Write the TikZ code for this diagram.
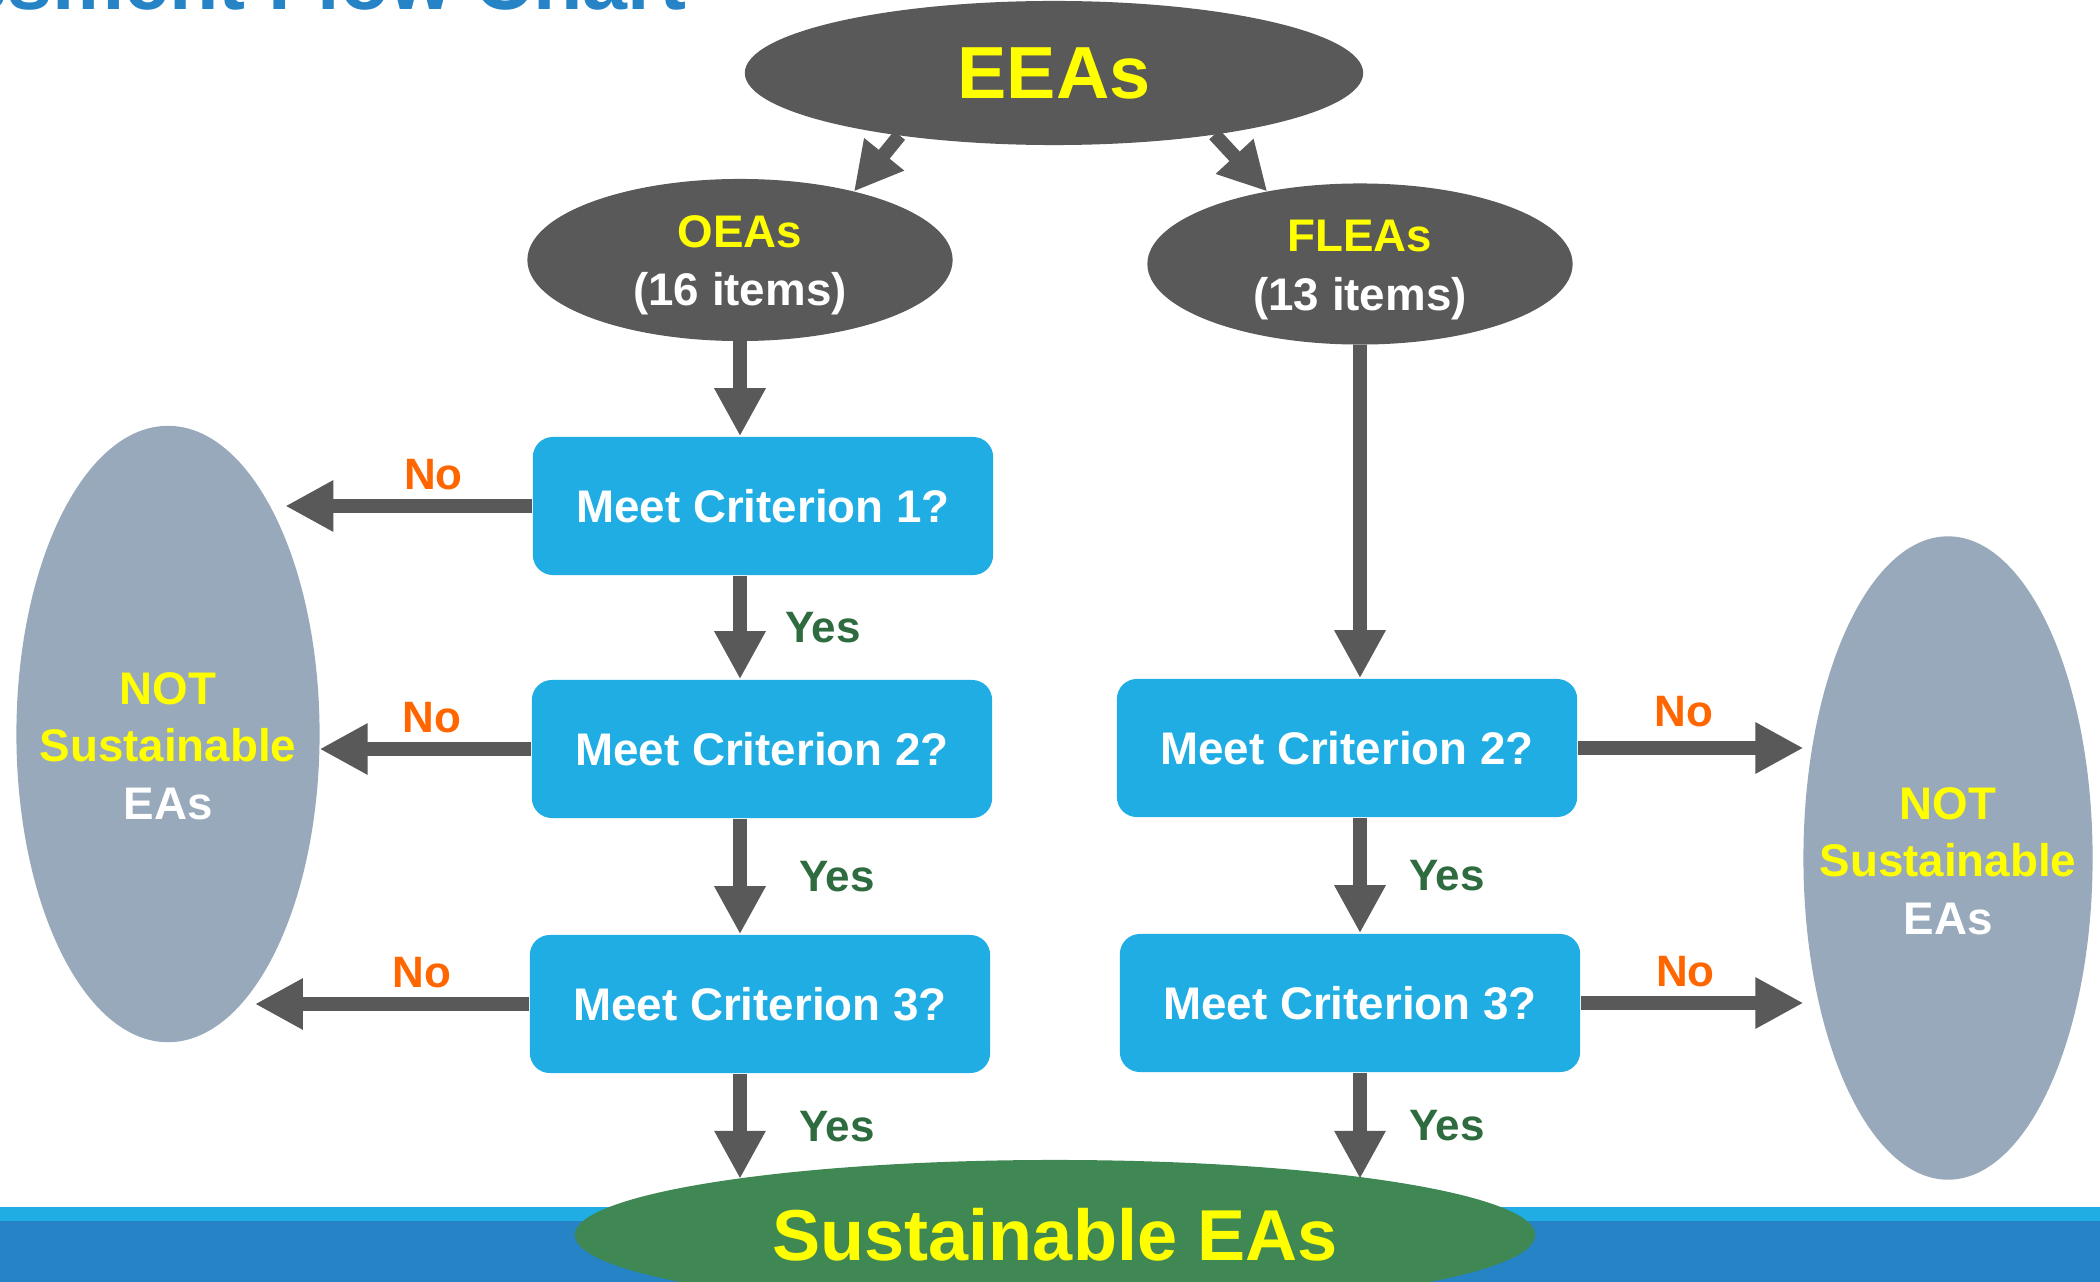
\documentclass[tikz,border=0pt]{standalone}
\usepackage{fontspec}
\setmainfont{Liberation Sans}
\usetikzlibrary{arrows.meta}
\usetikzlibrary{shapes.geometric}

\definecolor{eagray}{HTML}{595959}
\definecolor{eablue}{HTML}{1FADE4}
\definecolor{easlate}{HTML}{97A9BA}
\definecolor{eagreen}{HTML}{3F8854}
\definecolor{eayellow}{HTML}{FFFF00}
\definecolor{noorange}{HTML}{FF6600}
\definecolor{yesgreen}{HTML}{2E6B3F}
\definecolor{bandblue}{HTML}{2683C6}

\tikzset{
  group/.style={ellipse, fill=eagray, inner sep=0pt, outer sep=0pt},
  grouptext/.style={align=center, text=white, inner sep=0pt,
    font=\bfseries\fontsize{13pt}{16.5pt}\selectfont},
  crit/.style={rectangle, rounded corners=0.2cm, fill=eablue, text=white, inner sep=0pt,
    minimum width=4.6cm, minimum height=1.38cm, font=\bfseries\fontsize{13pt}{16pt}\selectfont},
  reject/.style={ellipse, fill=easlate, inner sep=0pt, outer sep=0pt},
  rejtext/.style={align=center, text=white, inner sep=0pt,
    font=\bfseries\fontsize{13pt}{16.3pt}\selectfont},
  keep/.style={ellipse, fill=eagreen, text=eayellow, inner sep=0pt, outer sep=0pt,
    font=\bfseries\fontsize{20.5pt}{25pt}\selectfont},
  nolabel/.style={text=noorange, inner sep=0pt, pos=0.47, above=#1,
    font=\bfseries\fontsize{12.5pt}{15pt}\selectfont},
  nolabel/.default=0.09cm,
  yeslabel/.style={text=yesgreen, inner sep=0pt, midway, right=#1,
    font=\bfseries\fontsize{12.5pt}{15pt}\selectfont},
  yeslabel/.default=0.42cm
}

\begin{document}
\begin{tikzpicture}[x=0.01cm, y=-0.01cm, >={Triangle[width=0.48cm,length=0.48cm]},
    every edge/.style={draw=eagray, line width=0.14cm, ->}]
  \fill[white] (0,0) rectangle (2100,1282);
  \useasboundingbox (0,0) rectangle (2100,1282);

  \node[anchor=base east, inner sep=0pt, text=bandblue,
        font=\bfseries\fontsize{23pt}{27pt}\selectfont] (title) at (687,10) {Assessment Flow Chart};

  \fill[eablue]   (0,1207) rectangle (2100,1221);
  \fill[bandblue] (0,1221) rectangle (2100,1282);

  \node[group, minimum width=6.18cm, minimum height=1.44cm] (eeas) at (1054,73) {};
  \node[grouptext, text=eayellow, font=\bfseries\fontsize{21pt}{25pt}\selectfont] (eeastext) at (eeas) {EEAs};
  \node[group, minimum width=4.25cm, minimum height=1.62cm] (oeas)  at (740,260)  {};
  \node[grouptext, yshift=-0.05cm] (oeastext) at (oeas) {\textcolor{eayellow}{OEAs}\\(16 items)};
  \node[group, minimum width=4.25cm, minimum height=1.61cm] (fleas) at (1360,264) {};
  \node[grouptext, yshift=-0.06cm] (fleastext) at (fleas) {\textcolor{eayellow}{FLEAs}\\(13 items)};

  \node[crit] (c1l) at (763,506)  {Meet Criterion 1?};
  \node[crit] (c2l) at (762,749)  {Meet Criterion 2?};
  \node[crit] (c3l) at (760,1004) {Meet Criterion 3?};
  \node[crit] (c2r) at (1347,748) {Meet Criterion 2?};
  \node[crit] (c3r) at (1350,1003) {Meet Criterion 3?};

  \node[reject, minimum width=3.03cm, minimum height=6.16cm] (notl) at (168,734) {};
  \node[rejtext, yshift=-0.12cm] (notltext) at (notl) {\textcolor{eayellow}{NOT}\\\textcolor{eayellow}{Sustainable}\\EAs};
  \node[reject, minimum width=2.89cm, minimum height=6.43cm] (notr) at (1948,858) {};
  \node[rejtext, yshift=-0.03cm] (notrtext) at (notr) {\textcolor{eayellow}{NOT}\\\textcolor{eayellow}{Sustainable}\\EAs};

  \node[keep, minimum width=9.6cm, minimum height=1.5cm] (sust) at (1055,1235) {Sustainable EAs};

  \path (eeas.202) edge (oeas.31)
        (eeas.339) edge (fleas.142)
        (oeas.south) edge (oeas |- c1l.north)
        (fleas.south) edge (fleas |- c2r.north)
        (oeas |- c1l.south) edge node[yeslabel=0.38cm] {Yes} (oeas |- c2l.north)
        (oeas |- c2l.south) edge node[yeslabel=0.52cm] {Yes} (oeas |- c3l.north)
        (oeas |- c3l.south) edge node[yeslabel=0.52cm] {Yes} (oeas |- sust.170)
        (fleas |- c2r.south) edge node[yeslabel] {Yes} (fleas |- c3r.north)
        (fleas |- c3r.south) edge node[yeslabel] {Yes} (fleas |- sust.10)
  ;
  \path (c1l.west) edge node[nolabel, pos=0.4] {No} (c1l.west -| notl.59)
        (c2l.west) edge node[nolabel] {No} (c2l.west -| notl.east)
        (c3l.west) edge node[nolabel, pos=0.39] {No} (c3l.west -| notl.289)
        (c2r.east) edge node[nolabel=0.14cm] {No} (c2r.east -| notr.west)
        (c3r.east) edge node[nolabel] {No} (c3r.east -| notr.west)
  ;
\end{tikzpicture}
\end{document}
